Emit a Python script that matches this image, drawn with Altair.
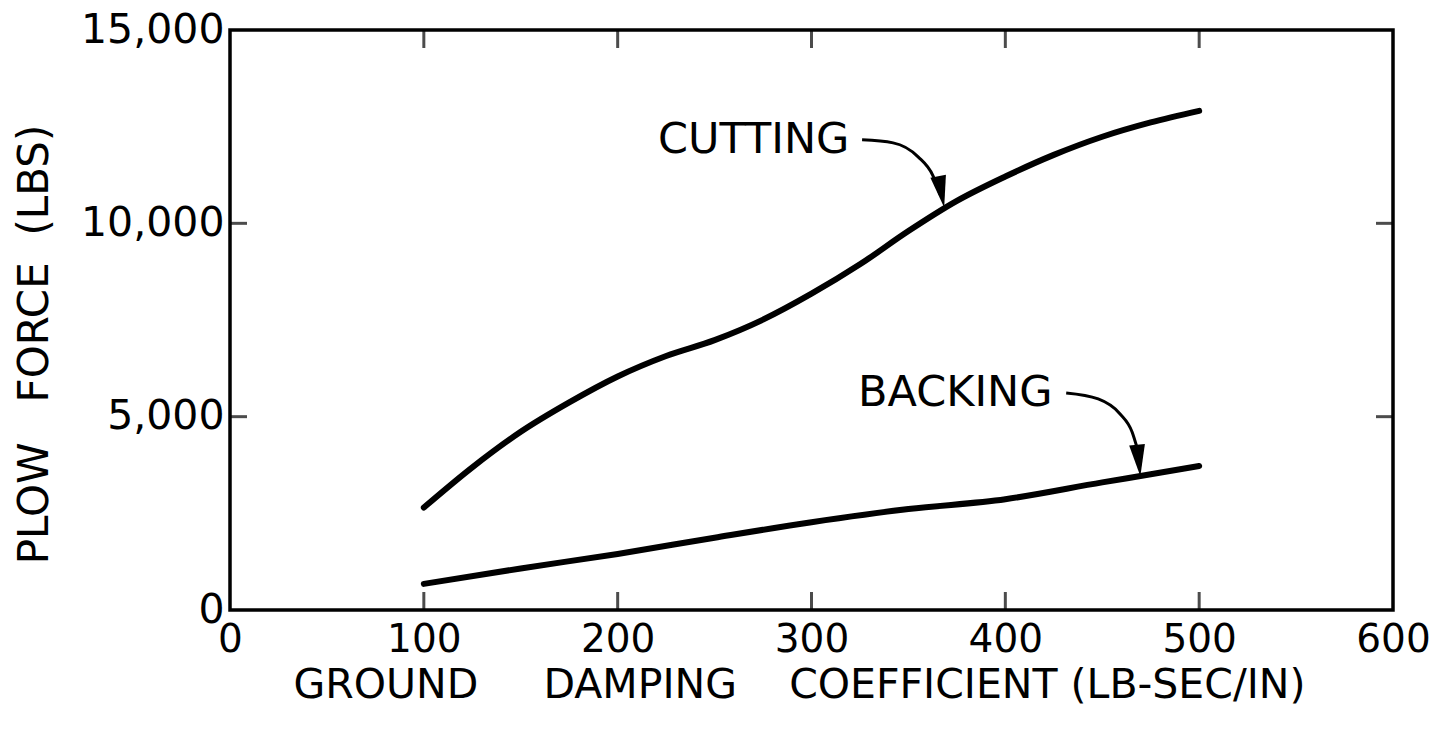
import altair as alt
import pandas as pd

# ---- data ----
damping_cut = [100, 125, 150, 175, 200, 225, 250, 275, 300, 325, 350, 375, 400, 425, 450, 475, 500]
force_cut = [2650, 3690, 4610, 5370, 6040, 6570, 6980, 7510, 8180, 8940, 9800, 10580, 11210, 11770, 12240, 12610, 12910]

damping_back = [100, 150, 200, 250, 300, 350, 400, 450, 475, 500]
force_back = [675, 1075, 1450, 1870, 2270, 2610, 2865, 3300, 3510, 3725]

# annotation labels
label_text = ["CUTTING", "BACKING"]
label_x = [220.8, 324.0]
label_y = [12150, 5614]

# leader arrows (data coordinates)
cut_arrow_x = [326.1, 342.1, 355.0, 362.7, 366.4]
cut_arrow_y = [12159, 12081, 11719, 11228, 10736]
back_arrow_x = [431.4, 447.9, 459.2, 465.4, 468.0]
back_arrow_y = [5614, 5459, 5071, 4605, 4191]
head_x = [366.9, 468.8]
head_y = [10814, 3868]
head_angle = [349, 354]

x_ticks = [0, 100, 200, 300, 400, 500, 600]
y_ticks = [0, 5000, 10000, 15000]
inner_x_ticks = [100, 200, 300, 400, 500]
inner_y_ticks = [5000, 10000]

FONT = "DejaVu Sans"
NB = "\u00a0"

curves = pd.concat([
    pd.DataFrame({"x": damping_cut, "y": force_cut, "s": "CUTTING"}),
    pd.DataFrame({"x": damping_back, "y": force_back, "s": "BACKING"}),
])
arrows = pd.concat([
    pd.DataFrame({"x": cut_arrow_x, "y": cut_arrow_y, "s": "c"}),
    pd.DataFrame({"x": back_arrow_x, "y": back_arrow_y, "s": "b"}),
])
labels = pd.DataFrame({"t": label_text, "x": label_x, "y": label_y})
heads = pd.DataFrame({"x": head_x, "y": head_y, "a": head_angle})
xt = pd.DataFrame({"x": inner_x_ticks})
yt = pd.DataFrame({"y": inner_y_ticks})

xscale = alt.Scale(domain=[0, 600], nice=False, zero=False)
yscale = alt.Scale(domain=[0, 15000], nice=False, zero=False)

xaxis = alt.Axis(
    values=x_ticks, format="d", ticks=False, domain=False, grid=False,
    labelFont=FONT, labelFontSize=39, labelColor="black", labelPadding=10,
    labelFlush=False, labelOverlap=False, labelBound=False,
    title="GROUND" + NB * 5 + "DAMPING" + NB * 4 + "COEFFICIENT" + NB + "(LB-SEC/IN)",
    titleFont=FONT, titleFontSize=41, titleFontWeight="normal", titleColor="black",
    titleX=569, titleY=75, titleAlign="center", titleBaseline="middle", titleAngle=0,
)
yaxis = alt.Axis(
    values=y_ticks, format=",d", ticks=False, domain=False, grid=False,
    labelFont=FONT, labelFontSize=41, labelColor="black", labelPadding=6,
    labelFlush=False, labelOverlap=False, labelBound=False,
    title="PLOW" + NB * 3 + "FORCE" + NB * 2 + "(LBS)",
    titleFont=FONT, titleFontSize=42, titleFontWeight="normal", titleColor="black",
    titleX=-196, titleY=314, titleAlign="center", titleBaseline="middle", titleAngle=270,
)

lines = alt.Chart(curves).mark_line(
    color="black", strokeWidth=6, strokeCap="round", interpolate="monotone"
).encode(
    x=alt.X("x:Q", scale=xscale, axis=xaxis),
    y=alt.Y("y:Q", scale=yscale, axis=yaxis),
    detail="s:N",
)

arrow_lines = alt.Chart(arrows).mark_line(
    color="black", strokeWidth=3, interpolate="monotone"
).encode(x=alt.X("x:Q", scale=xscale), y=alt.Y("y:Q", scale=yscale), detail="s:N")

arrow_heads = alt.Chart(heads).mark_point(
    shape="M -0.5 -1 L 0.5 -1 L 0 1 Z", filled=True, color="black", opacity=1, size=1000
).encode(
    x=alt.X("x:Q", scale=xscale), y=alt.Y("y:Q", scale=yscale),
    angle=alt.Angle("a:Q", scale=None),
)

text = alt.Chart(labels).mark_text(
    font=FONT, fontSize=43, align="left", baseline="middle", color="black"
).encode(x=alt.X("x:Q", scale=xscale), y=alt.Y("y:Q", scale=yscale), text="t:N")

tick_bottom = alt.Chart(xt).mark_tick(
    orient="vertical", size=18, thickness=3, color="black", yOffset=-9
).encode(x=alt.X("x:Q", scale=xscale), y=alt.datum(0, scale=yscale))
tick_top = alt.Chart(xt).mark_tick(
    orient="vertical", size=18, thickness=3, color="black", yOffset=9
).encode(x=alt.X("x:Q", scale=xscale), y=alt.datum(15000, scale=yscale))
tick_left = alt.Chart(yt).mark_tick(
    orient="horizontal", size=17, thickness=3, color="black", xOffset=8.5
).encode(y=alt.Y("y:Q", scale=yscale), x=alt.datum(0, scale=xscale))
tick_right = alt.Chart(yt).mark_tick(
    orient="horizontal", size=17, thickness=3, color="black", xOffset=-8.5
).encode(y=alt.Y("y:Q", scale=yscale), x=alt.datum(600, scale=xscale))

chart = alt.layer(
    lines, arrow_lines, arrow_heads, text, tick_bottom, tick_top, tick_left, tick_right
).properties(
    width=1163, height=580,
    autosize=alt.AutoSizeParams(type="none"),
    padding={"left": 230, "top": 30, "right": 43, "bottom": 123},
    background="white",
).configure_view(
    stroke="black", strokeWidth=3.5
)

chart.save("out.html", embed_options={"renderer": "svg", "actions": False})
